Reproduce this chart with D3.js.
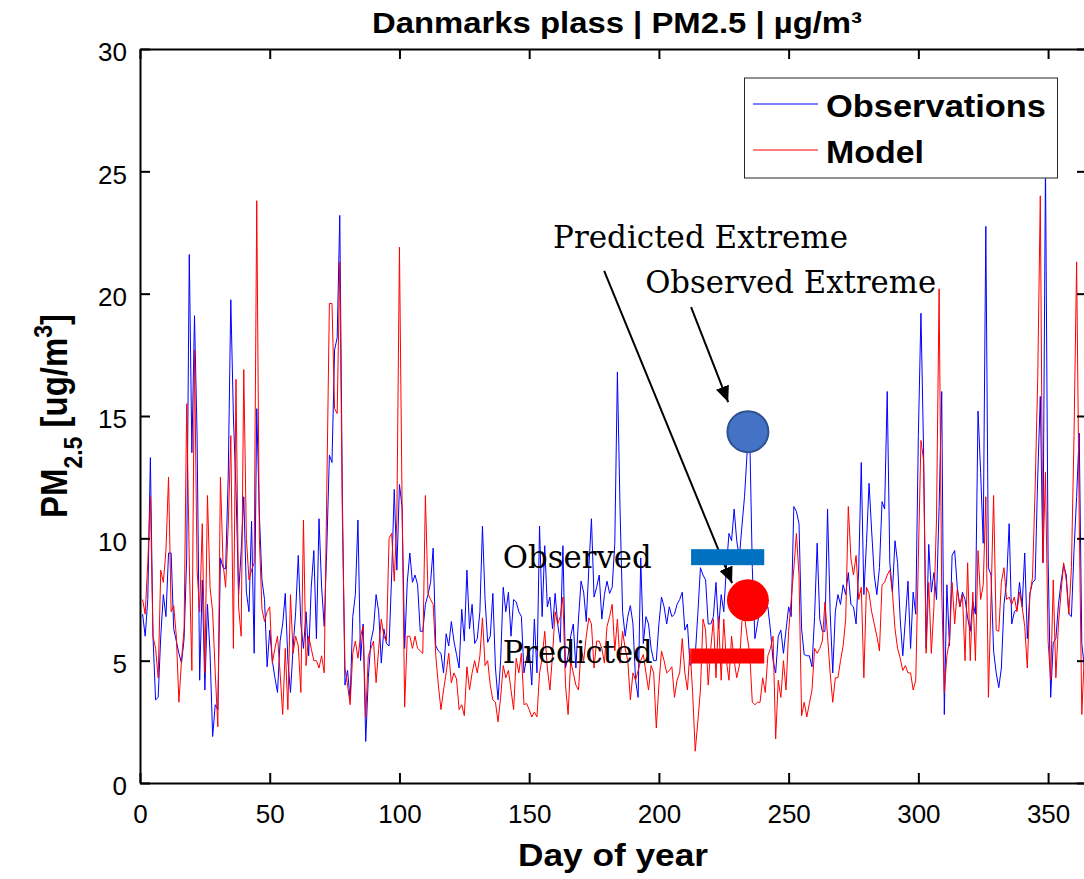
<!DOCTYPE html>
<meta charset="utf-8">
<style>
body { margin: 0; background: #fff; }
</style>
<body>
<svg id="chart" width="1084" height="879"></svg>
<script src="https://cdn.jsdelivr.net/npm/d3@7"></script>
<script>

// daily PM2.5, day 1..365
var obs = [
  6.9, 6.0, 7.5, 13.3, 6.0, 3.4, 3.5, 6.0, 7.7, 6.8,
  9.4, 9.4, 6.3, 5.8, 5.3, 4.9, 5.9, 9.2, 21.6, 13.5,
  19.1, 14.2, 4.2, 8.3, 3.8, 7.3, 5.3, 1.9, 3.2, 3.0,
  9.2, 8.8, 8.75, 12.5, 19.75, 15.0, 12.0, 7.7, 9.5, 11.7,
  7.8, 7.0, 10.7, 5.3, 15.3, 11.0, 8.3, 7.5, 4.75, 6.25,
  5.0, 4.3, 3.7, 5.8, 6.5, 7.75, 5.0, 3.7, 5.5, 7.0,
  9.3, 6.5, 5.5, 7.0, 5.2, 8.0, 9.5, 5.9, 10.8, 8.0,
  6.4, 9.6, 13.4, 13.1, 17.7, 18.2, 23.2, 11.7, 4.0, 4.6,
  3.4, 6.8, 7.7, 10.75, 5.0, 6.5, 1.7, 4.3, 5.8, 6.3,
  7.7, 7.0, 4.9, 6.3, 5.7, 5.6, 8.5, 12.0, 8.7, 12.2,
  11.3, 5.5, 8.2, 9.4, 8.2, 8.5, 8.1, 6.2, 6.2, 7.3,
  7.7, 8.2, 9.6, 5.6, 5.4, 5.3, 4.5, 6.1, 5.6, 6.6,
  5.8, 5.25, 4.7, 7.1, 5.8, 8.7, 6.3, 7.3, 5.7, 5.9,
  7.0, 10.5, 7.5, 5.75, 6.0, 7.75, 4.7, 3.4, 5.0, 8.0,
  7.0, 7.8, 6.0, 7.5, 7.4, 7.0, 6.8, 4.5, 5.1, 5.5,
  4.0, 6.7, 4.5, 10.5, 6.8, 9.7, 7.2, 7.6, 6.3, 7.75,
  6.5, 5.75, 9.7, 4.7, 5.2, 6.0, 6.5, 4.7, 6.7, 8.25,
  7.8, 6.6, 8.8, 10.8, 7.6, 8.0, 8.5, 6.7, 7.7, 8.25,
  7.75, 8.0, 9.8, 16.8, 11.3, 7.0, 6.0, 6.8, 7.25, 6.5,
  4.2, 3.5, 9.2, 5.7, 6.8, 6.5, 5.5, 5.0, 5.0, 6.5,
  7.6, 7.2, 6.5, 7.2, 6.8, 6.9, 7.3, 7.5, 7.8, 6.25,
  6.5, 4.8, 5.0, 5.2, 6.9, 8.8, 8.5, 8.3, 6.5, 6.5,
  6.8, 8.2, 6.3, 7.7, 7.0, 8.8, 10.2, 9.9, 11.2, 9.9,
  9.2, 10.5, 11.7, 13.5, 14.3, 8.8, 5.9, 6.5, 7.2, 7.3,
  7.1, 7.2, 6.25, 5.0, 4.5, 6.0, 6.25, 5.3, 6.25, 7.2,
  6.8, 11.3, 11.1, 10.6, 6.3, 5.25, 5.2, 5.2, 4.75, 6.8,
  9.8, 6.7, 6.2, 6.2, 11.2, 7.0, 4.5, 7.0, 7.7, 7.3,
  8.1, 7.7, 8.6, 7.3, 7.2, 6.5, 8.7, 13.1, 7.7, 9.8,
  12.25, 10.3, 8.5, 7.7, 8.8, 11.5, 11.2, 16.0, 9.0, 7.8,
  9.9, 9.0, 6.7, 5.2, 6.7, 8.25, 5.5, 7.8, 6.9, 14.2,
  19.2, 13.7, 5.5, 9.75, 7.8, 8.6, 7.5, 11.3, 16.0, 2.8,
  8.1, 5.6, 9.3, 9.5, 8.0, 7.2, 7.8, 7.5, 6.75, 6.2,
  7.4, 6.9, 15.2, 12.7, 9.8, 22.75, 8.8, 8.5, 5.4, 4.5,
  3.9, 4.7, 7.3, 8.2, 10.6, 6.5, 7.0, 7.1, 8.2, 7.2,
  9.4, 5.9, 7.75, 8.2, 8.3, 12.5, 15.8, 9.0, 25.3, 9.2,
  3.5, 5.75, 5.9, 7.3, 8.2, 8.9, 8.5, 6.9, 6.8, 9.5,
  11.7, 14.3, 5.7, 4.7, 4.5
];

var model = [
  7.5, 6.9, 9.0, 11.7, 6.0, 5.5, 4.3, 8.7, 8.2, 9.5,
  12.5, 7.0, 7.25, 6.0, 3.3, 5.0, 6.3, 15.5, 9.0, 4.6,
  17.7, 8.7, 7.0, 10.6, 4.5, 11.75, 8.0, 7.0, 4.5, 2.3,
  12.5, 9.0, 8.0, 10.5, 14.2, 5.5, 16.5, 7.2, 6.0, 16.9,
  10.0, 8.3, 8.7, 9.0, 23.8, 10.0, 7.1, 6.6, 7.0, 7.2,
  4.9, 5.5, 6.0, 4.5, 2.8, 5.5, 3.0, 7.7, 5.3, 6.0,
  5.6, 3.7, 10.75, 4.8, 6.0, 5.5, 5.0, 5.0, 4.7, 5.2,
  4.5, 12.0, 19.6, 19.6, 15.3, 15.1, 21.3, 10.8, 4.7, 4.0,
  3.2, 5.3, 5.8, 5.1, 6.0, 6.4, 2.7, 5.2, 5.5, 5.8,
  4.1, 5.5, 6.7, 6.0, 5.8, 10.0, 10.2, 8.25, 10.8, 21.9,
  11.5, 3.1, 6.0, 6.0, 5.5, 6.0, 5.5, 5.4, 5.3, 11.75,
  7.75, 7.5, 7.3, 5.2, 4.0, 3.0, 3.8, 4.5, 5.3, 4.1,
  4.5, 4.25, 3.0, 3.2, 2.75, 4.75, 3.8, 4.5, 5.0, 4.5,
  5.2, 6.75, 4.8, 5.0, 4.0, 3.4, 3.3, 2.5, 3.5, 4.8,
  4.3, 4.6, 3.8, 3.0, 5.1, 4.5, 5.3, 3.2, 3.25, 3.0,
  2.7, 2.9, 2.7, 4.5, 5.1, 6.2, 4.7, 3.8, 5.25, 7.0,
  6.5, 6.8, 7.6, 4.0, 2.8, 5.0, 4.5, 4.0, 3.8, 5.5,
  5.0, 6.0, 6.75, 6.5, 4.7, 5.8, 5.8, 5.5, 4.9, 6.4,
  6.8, 7.3, 5.4, 6.7, 4.9, 6.2, 5.5, 5.0, 3.4, 4.5,
  4.2, 4.6, 5.0, 5.25, 4.5, 3.8, 4.8, 4.5, 2.25, 4.0,
  5.4, 5.0, 4.5, 4.6, 4.75, 3.5, 4.2, 4.5, 5.9, 4.5,
  3.8, 5.5, 3.7, 1.3, 2.5, 3.8, 6.7, 6.25, 4.0, 5.5,
  6.7, 4.3, 6.8, 4.2, 6.7, 5.0, 4.2, 6.0, 5.0, 4.3,
  4.8, 6.6, 6.8, 6.0, 5.3, 3.3, 3.2, 3.3, 3.3, 4.3,
  3.7, 5.2, 5.5, 6.0, 1.8, 4.2, 3.5, 5.0, 3.8, 6.2,
  7.5, 8.75, 10.2, 8.5, 2.75, 3.3, 2.7, 3.25, 3.8, 5.5,
  5.3, 5.5, 5.8, 7.4, 6.0, 4.5, 3.3, 4.3, 4.3, 5.0,
  5.6, 6.7, 11.3, 9.2, 8.5, 9.3, 7.5, 8.0, 4.3, 8.0,
  7.75, 7.0, 6.5, 6.0, 5.4, 8.1, 8.2, 8.5, 8.7, 7.8,
  6.3, 5.5, 5.1, 4.6, 4.8, 4.5, 4.5, 3.8, 4.2, 9.2,
  14.0, 13.2, 5.3, 8.2, 5.3, 7.2, 10.8, 20.2, 7.8, 3.7,
  5.2, 5.8, 8.2, 6.5, 7.9, 7.2, 7.7, 5.0, 9.0, 5.0,
  7.8, 5.0, 9.5, 7.5, 8.1, 11.7, 3.5, 7.5, 11.75, 6.25,
  6.2, 8.2, 8.8, 7.5, 7.6, 7.3, 7.6, 7.0, 7.8, 7.2,
  6.4, 4.7, 7.7, 8.4, 12.0, 16.5, 24.0, 9.0, 12.7, 5.8,
  4.2, 8.3, 4.3, 6.5, 7.8, 9.0, 8.3, 6.9, 8.8, 14.2,
  21.3, 10.8, 2.8, 5.3, 4.0
];

var seriesNames = ['Observations', 'Model'];
var seriesColors = ['#0000ff', '#ff0000'];
var xTicks = [0, 50, 100, 150, 200, 250, 300, 350];
var yTicks = [0, 5, 10, 15, 20, 25, 30];

// extreme-value markers, in day / ug/m3 units
var extremeDay = 234.3;
var obsExtreme = 14.36, predExtreme = 7.47;
var barDays = [212.4, 240.6];
var obsLevel = 9.23, predLevel = 5.19;

var svg = d3.select('#chart');
var x = d3.scaleLinear().domain([0, 365]).range([140, 1087]);
var y = d3.scaleLinear().domain([0, 30]).range([783, 49]);

var sansFont = 'Arial, "Liberation Sans", sans-serif';
var serifFont = '"DejaVu Serif", "Liberation Serif", serif';

// series, observations first so the model sits on top
[obs, model].forEach(function(vals, k) {
  var line = d3.line()
    .x(function(d, i) { return x(i + 1); })
    .y(function(d) { return y(d); });
  svg.append('path').datum(vals)
    .attr('d', line)
    .attr('fill', 'none')
    .attr('stroke', seriesColors[k])
    .attr('stroke-width', 1)
    .attr('stroke-linejoin', 'round');
});

// axes, MATLAB style box with inward ticks
function styleAxis(g) {
  g.attr('font-family', sansFont).attr('font-size', 26);
  g.select('.domain').attr('stroke', '#000').attr('stroke-width', 2);
  g.selectAll('.tick line').attr('stroke', '#000').attr('stroke-width', 2);
  g.selectAll('.tick text').attr('fill', '#000');
}

svg.append('g').attr('transform', 'translate(0,' + y(0) + ')')
  .call(d3.axisBottom(x).tickValues(xTicks).tickSizeInner(-10).tickSizeOuter(0).tickPadding(22))
  .call(styleAxis);
svg.append('g').attr('transform', 'translate(0,' + y(30) + ')')
  .call(d3.axisTop(x).tickValues(xTicks).tickSizeInner(-10).tickSizeOuter(0).tickFormat(''))
  .call(styleAxis);
var gy = svg.append('g').attr('transform', 'translate(' + x(0) + ',0)')
  .call(d3.axisLeft(y).tickValues(yTicks).tickSizeInner(-10).tickSizeOuter(0).tickPadding(13))
  .call(styleAxis);
gy.selectAll('.tick text').attr('dy', '0.45em');
svg.append('g').attr('transform', 'translate(' + x(365) + ',0)')
  .call(d3.axisRight(y).tickValues(yTicks).tickSizeInner(-10).tickSizeOuter(0).tickFormat(''))
  .call(styleAxis);

// title and axis labels
svg.append('text')
  .attr('x', 617).attr('y', 33)
  .attr('text-anchor', 'middle')
  .attr('font-family', sansFont).attr('font-weight', 'bold').attr('font-size', 29)
  .attr('textLength', 490).attr('lengthAdjust', 'spacingAndGlyphs')
  .text('Danmarks plass | PM2.5 | \u00b5g/m\u00b3');

svg.append('text')
  .attr('x', 613).attr('y', 866)
  .attr('text-anchor', 'middle')
  .attr('font-family', sansFont).attr('font-weight', 'bold').attr('font-size', 32)
  .attr('textLength', 190).attr('lengthAdjust', 'spacingAndGlyphs')
  .text('Day of year');

var yl = svg.append('text')
  .attr('transform', 'translate(67,' + y(15) + ') scale(1.12,1) rotate(-90)')
  .attr('text-anchor', 'middle')
  .attr('font-family', sansFont).attr('font-weight', 'bold').attr('font-size', 33);
yl.append('tspan').text('PM');
yl.append('tspan').attr('font-size', 23).attr('dy', 13).text('2.5');
yl.append('tspan').attr('dy', -13).text(' [ug/m');
yl.append('tspan').attr('font-size', 23).attr('dy', -13).text('3');
yl.append('tspan').attr('dy', 13).text(']');

// legend
var lg = svg.append('g');
lg.append('rect')
  .attr('x', 744.5).attr('y', 78).attr('width', 313).attr('height', 100)
  .attr('fill', '#fff').attr('stroke', '#262626').attr('stroke-width', 1);
var legendY = [104, 150];
seriesNames.forEach(function(name, k) {
  lg.append('line')
    .attr('x1', 753).attr('x2', 818)
    .attr('y1', legendY[k]).attr('y2', legendY[k])
    .attr('stroke', seriesColors[k]).attr('stroke-width', 1);
  lg.append('text')
    .attr('x', 826).attr('y', legendY[k] + 13)
    .attr('font-family', sansFont).attr('font-weight', 'bold').attr('font-size', 32)
    .attr('textLength', k === 0 ? 220 : 98).attr('lengthAdjust', 'spacingAndGlyphs')
    .attr('fill', '#000')
    .text(name);
});

// annotations
var notes = [
  {text: 'Predicted Extreme', day: 159.2, val: 21.87, w: 295},
  {text: 'Observed Extreme', day: 194.7, val: 20.04, w: 291},
  {text: 'Observed', day: 139.8, val: 8.79, w: 149},
  {text: 'Predicted', day: 139.8, val: 4.92, w: 150}
];
notes.forEach(function(n) {
  svg.append('text')
    .attr('x', x(n.day)).attr('y', y(n.val))
    .attr('font-family', serifFont).attr('font-size', 31)
    .attr('textLength', n.w).attr('lengthAdjust', 'spacingAndGlyphs')
    .attr('fill', '#000')
    .text(n.text);
});

svg.append('defs').append('marker')
  .attr('id', 'head').attr('markerUnits', 'userSpaceOnUse')
  .attr('viewBox', '0 0 16 14').attr('refX', 16).attr('refY', 7)
  .attr('markerWidth', 16).attr('markerHeight', 14)
  .attr('orient', 'auto')
  .append('path').attr('d', 'M0,0L16,7L0,14Z').attr('fill', '#000');

var arrows = [
  {d0: 212.4, v0: 19.45, d1: 226.7, v1: 15.57},
  {d0: 178.9, v0: 20.93, d1: 228.2, v1: 8.17}
];
arrows.forEach(function(a) {
  svg.append('line')
    .attr('x1', x(a.d0)).attr('y1', y(a.v0))
    .attr('x2', x(a.d1)).attr('y2', y(a.v1))
    .attr('stroke', '#000').attr('stroke-width', 2)
    .attr('marker-end', 'url(#head)');
});

svg.append('rect')
  .attr('x', x(barDays[0])).attr('y', y(obsLevel) - 8)
  .attr('width', x(barDays[1]) - x(barDays[0])).attr('height', 16)
  .attr('fill', '#0070c0');
svg.append('rect')
  .attr('x', x(barDays[0])).attr('y', y(predLevel) - 7.5)
  .attr('width', x(barDays[1]) - x(barDays[0])).attr('height', 15)
  .attr('fill', '#ff0000');

svg.append('circle')
  .attr('cx', x(extremeDay)).attr('cy', y(obsExtreme)).attr('r', 20.5)
  .attr('fill', '#4472c4').attr('stroke', '#2f528f').attr('stroke-width', 2);
svg.append('circle')
  .attr('cx', x(extremeDay)).attr('cy', y(predExtreme)).attr('r', 21)
  .attr('fill', '#ff0000');

</script>
